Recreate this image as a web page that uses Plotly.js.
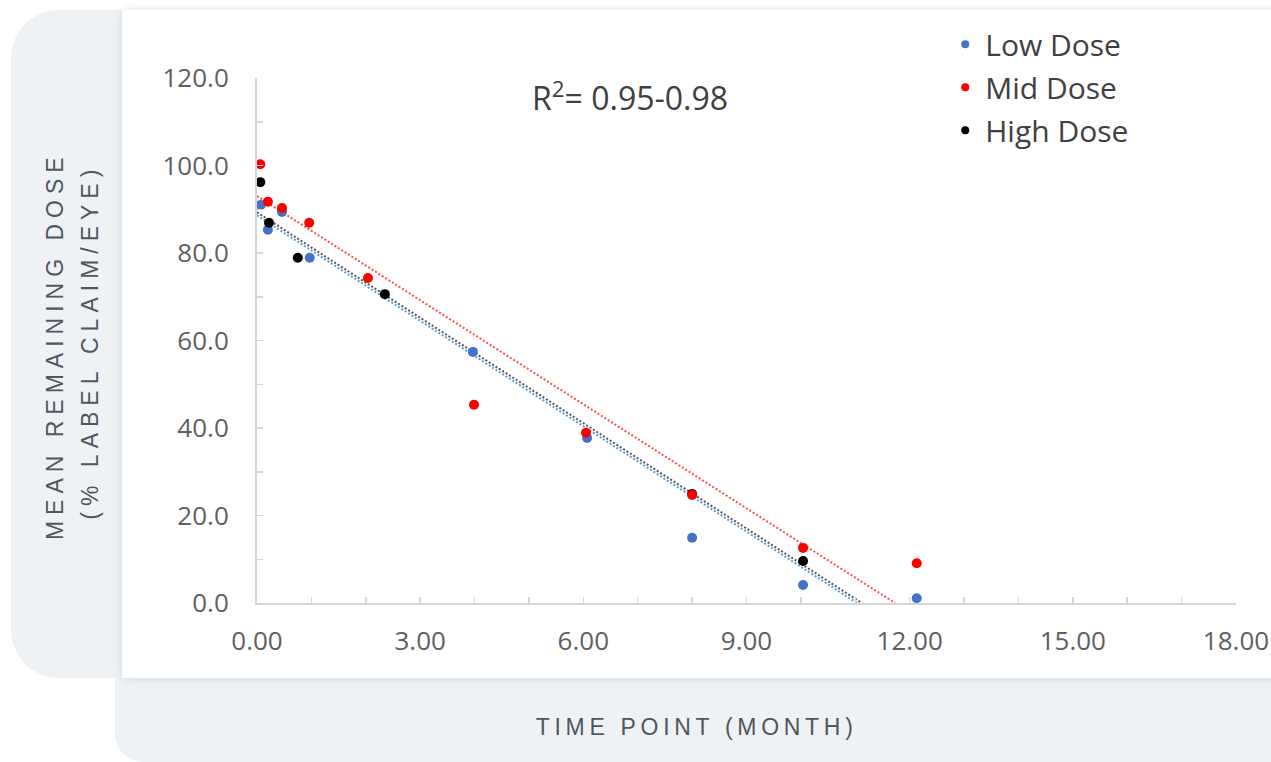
<!DOCTYPE html>
<html>
<head>
<meta charset="utf-8">
<script src="https://cdn.plot.ly/plotly-3.0.1.min.js"></script>
<style>
  html, body { margin: 0; padding: 0; width: 1271px; height: 762px; overflow: hidden; background: #ffffff; }
  .panel-left { position: absolute; left: 11px; top: 10px; width: 200px; height: 668px; background: #eff2f4; border-radius: 48px 0 0 48px; }
  .panel-bottom { position: absolute; left: 115px; top: 560px; width: 1300px; height: 202px; background: #eff2f4; border-radius: 0 0 0 28px; }
  .card { position: absolute; left: 122px; top: 10px; width: 1300px; height: 668px; background: #ffffff; box-shadow: 0 0 9px rgba(0,0,0,0.13); }
  #chart { position: absolute; left: 0; top: 0; width: 1271px; height: 762px; }
</style>
</head>
<body>
<div class="panel-left"></div>
<div class="panel-bottom"></div>
<div class="card"></div>
<div id="chart"></div>
<script>
// Series names
const seriesNames = ["Low Dose", "Mid Dose", "High Dose"];

// Low Dose (time in months, mean remaining dose %)
const lowX = [0.07, 0.20, 0.46, 0.97, 3.97, 6.07, 8.00, 10.04, 12.13];
const lowY = [91.0, 85.3, 89.4, 78.9, 57.4, 37.7, 14.9, 4.1, 1.1];

// Mid Dose
const midX = [0.06, 0.20, 0.46, 0.96, 2.04, 3.99, 6.05, 8.00, 10.04, 12.13];
const midY = [100.3, 91.7, 90.3, 86.9, 74.3, 45.3, 38.9, 24.7, 12.6, 9.1];

// High Dose
const highX = [0.06, 0.22, 0.75, 2.35, 8.00, 10.04];
const highY = [96.2, 86.9, 78.9, 70.6, 24.9, 9.6];

// Linear trendlines (end points)
const lowTrendX = [0, 11.03];
const lowTrendY = [88.6, 0];
const midTrendX = [0, 11.73];
const midTrendY = [93.0, 0];
const highTrendX = [0, 11.12];
const highTrendY = [89.3, 0];

// Tick labels
const xTickVals = [0, 3, 6, 9, 12, 15, 18];
const xTickText = ["0.00", "3.00", "6.00", "9.00", "12.00", "15.00", "18.00"];
const yTickVals = [0, 20, 40, 60, 80, 100, 120];
const yTickText = ["0.0", "20.0", "40.0", "60.0", "80.0", "100.0", "120.0"];

const rSquaredText = "R<sup>2</sup>= 0.95-0.98";
const xTitle = "TIME POINT (MONTH)";
const yTitle1 = "MEAN REMAINING DOSE";
const yTitle2 = "(% LABEL CLAIM/EYE)";

const colors = { low: "#4472c4", mid: "#ff0000", high: "#000000" };
const trendColors = { low: "#5b9bd5", mid: "#ff4d4d", high: "#555555" };
const labelFont = "'Open Sans', sans-serif";
const titleFont = "'Liberation Sans', Arial, sans-serif";

const traces = [
  { x: lowTrendX, y: lowTrendY, mode: "lines", line: { color: trendColors.low, width: 2, dash: "2px,2px" }, showlegend: false, hoverinfo: "skip" },
  { x: highTrendX, y: highTrendY, mode: "lines", line: { color: trendColors.high, width: 2, dash: "2px,2px" }, showlegend: false, hoverinfo: "skip" },
  { x: midTrendX, y: midTrendY, mode: "lines", line: { color: trendColors.mid, width: 2, dash: "2px,2px" }, showlegend: false, hoverinfo: "skip" },
  { x: lowX, y: lowY, mode: "markers", name: seriesNames[0], marker: { color: colors.low, size: 10 }, showlegend: false, cliponaxis: false },
  { x: highX, y: highY, mode: "markers", name: seriesNames[2], marker: { color: colors.high, size: 10 }, showlegend: false, cliponaxis: false },
  { x: midX, y: midY, mode: "markers", name: seriesNames[1], marker: { color: colors.mid, size: 10 }, showlegend: false, cliponaxis: false },
  // legend entries
  { x: [null], y: [null], mode: "markers", name: seriesNames[0], marker: { color: colors.low, size: 8 }, legendgroup: "a" },
  { x: [null], y: [null], mode: "markers", name: seriesNames[1], marker: { color: colors.mid, size: 8 }, legendgroup: "b" },
  { x: [null], y: [null], mode: "markers", name: seriesNames[2], marker: { color: colors.high, size: 8 }, legendgroup: "c" }
];

const axisGray = "#d6d6d6";

const layout = {
  width: 1271,
  height: 762,
  margin: { l: 257, r: 35, t: 78, b: 159 },
  paper_bgcolor: "rgba(0,0,0,0)",
  plot_bgcolor: "rgba(0,0,0,0)",
  showlegend: true,
  legend: {
    x: 0.703, xanchor: "left", y: 1.114, yanchor: "top",
    font: { family: labelFont, size: 30, color: "#404040" },
    bgcolor: "rgba(0,0,0,0)",
    traceorder: "grouped",
    tracegroupgap: 1
  },
  xaxis: {
    range: [0, 18],
    tickvals: xTickVals,
    ticktext: xTickText,
    ticks: "inside",
    ticklen: 6,
    tickwidth: 1.5,
    tickcolor: axisGray,
    showline: true,
    linecolor: axisGray,
    linewidth: 2,
    showgrid: false,
    zeroline: false,
    ticklabelstandoff: 14,
    tickfont: { family: labelFont, size: 26, color: "#606060" },
    minor: { dtick: 1, ticks: "inside", ticklen: 6, tickwidth: 1.5, tickcolor: axisGray, showgrid: false }
  },
  yaxis: {
    range: [0, 120],
    tickvals: yTickVals,
    ticktext: yTickText,
    ticks: "inside",
    ticklen: 6,
    tickwidth: 1.5,
    tickcolor: axisGray,
    showline: true,
    linecolor: axisGray,
    linewidth: 2,
    showgrid: false,
    zeroline: false,
    ticklabelstandoff: 21,
    tickfont: { family: labelFont, size: 26, color: "#606060" },
    minor: { dtick: 10, ticks: "inside", ticklen: 6, tickwidth: 1.5, tickcolor: axisGray, showgrid: false }
  },
  annotations: [
    { text: rSquaredText, xref: "paper", yref: "paper", x: 0.381, y: 0.966, xanchor: "center", yanchor: "middle", showarrow: false,
      font: { family: labelFont, size: 32, color: "#404040" } },
    { text: xTitle, xref: "paper", yref: "paper", x: 0.449, y: -0.236, xanchor: "center", yanchor: "middle", showarrow: false,
      font: { family: titleFont, size: 23, color: "#50575f" } },
    { text: yTitle1, xref: "paper", yref: "paper", x: -0.207, y: 0.49, xanchor: "center", yanchor: "middle", showarrow: false, textangle: -90,
      font: { family: titleFont, size: 23, color: "#50575f" } },
    { text: yTitle2, xref: "paper", yref: "paper", x: -0.170, y: 0.497, xanchor: "center", yanchor: "middle", showarrow: false, textangle: -90,
      font: { family: titleFont, size: 23, color: "#50575f" } }
  ]
};

Plotly.newPlot("chart", traces, layout, { displayModeBar: false, staticPlot: true }).then(function () {
  const texts = document.querySelectorAll("#chart .annotation-text");
  texts.forEach(function (t, i) {
    if (i === 1) t.style.letterSpacing = "4.7px";
    if (i === 2 || i === 3) t.style.letterSpacing = "6px";
  });
});
</script>
</body>
</html>
